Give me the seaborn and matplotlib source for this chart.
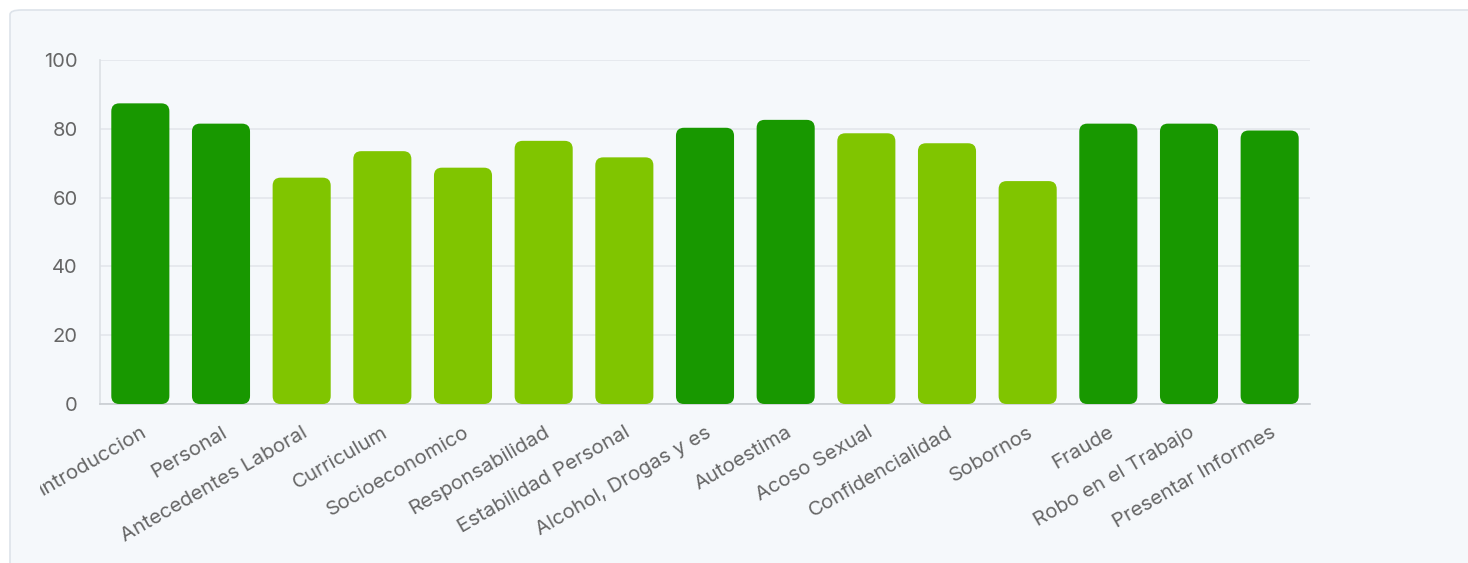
import matplotlib
matplotlib.use("Agg")
import matplotlib.pyplot as plt
import seaborn as sns
import pandas as pd
from matplotlib.patches import FancyBboxPatch, Rectangle

# データ
categories = ["Introduccion", "Personal", "Antecedentes Laboral", "Curriculum",
              "Socioeconomico", "Responsabilidad", "Estabilidad Personal",
              "Alcohol, Drogas y es", "Autoestima", "Acoso Sexual",
              "Confidencialidad", "Sobornos", "Fraude", "Robo en el Trabajo",
              "Presentar Informes"]
scores = [87.4, 81.5, 65.8, 73.5, 68.7, 76.5, 71.7, 80.3, 82.6, 78.7, 75.8,
          64.8, 81.5, 81.5, 79.5]
y_ticks = [0, 20, 40, 60, 80, 100]

DARK = "#189800"
LIGHT = "#80C500"
BG = "#F5F8FB"

df = pd.DataFrame({"cat": categories, "score": scores})
df["level"] = ["alto" if s >= 79 else "medio" for s in scores]

sns.set_theme(style="white")
plt.rcParams['font.family'] = ['Inter', 'DejaVu Sans']

W, H, DPI = 1468, 563, 100
fig = plt.figure(figsize=(W / DPI, H / DPI), dpi=DPI)
fig.patch.set_facecolor("white")

# カード背景
card = FancyBboxPatch((10 / W, -20 / H), (W + 20) / W, (H + 10) / H,
                      boxstyle="round,pad=0,rounding_size=0.008",
                      transform=fig.transFigure, facecolor=BG,
                      edgecolor="#DDE3EA", linewidth=1.2, zorder=-10)
fig.patches.append(card)

ax = fig.add_axes([100 / W, 159 / H, 1210 / W, 344 / H])
ax.set_facecolor("none")
ax.set_zorder(1)

sns.barplot(data=df, x="cat", y="score", hue="level",
            palette={"alto": DARK, "medio": LIGHT}, dodge=False,
            width=0.72, saturation=1, legend=False, ax=ax)

# 角丸バーに置き換え
px_x = 1210 / 15
px_y = 344 / 100
r = 8 / px_x
for p in list(ax.patches):
    if p.get_height() <= 0:
        p.remove()
        continue
    x, y = p.get_x(), p.get_y()
    w, h = p.get_width(), p.get_height()
    fb = FancyBboxPatch((x, y), w, h,
                        boxstyle=f"round,pad=0,rounding_size={r}",
                        mutation_aspect=px_x / px_y,
                        facecolor=p.get_facecolor(), edgecolor="none",
                        zorder=3)
    p.remove()
    ax.add_patch(fb)

ax.set_xlim(-0.5, len(categories) - 0.5)
ax.set_ylim(0, 100)
ax.set_yticks(y_ticks)
ax.yaxis.grid(True, color="#E3E7EC", linewidth=1.2)
ax.set_axisbelow(True)
ax.set_xlabel("")
ax.set_ylabel("")

for side in ["top", "right"]:
    ax.spines[side].set_visible(False)
ax.spines["left"].set_color("#DCE0E5")
ax.spines["bottom"].set_color("#C9CDD2")
ax.spines["left"].set_linewidth(1.2)
ax.spines["bottom"].set_linewidth(1.2)

ax.tick_params(axis="y", length=12, width=1.2, color="#E3E7EC", pad=4,
               labelsize=14.5, labelcolor="#666666")
ax.tick_params(axis="x", length=0, pad=14, labelsize=14.7,
               labelcolor="#666666")
ax.set_xticks(range(len(categories)))
ax.set_xticklabels(categories, rotation=30, ha="right",
                   rotation_mode="anchor")

# 左端のラベルを切り取る
clip = Rectangle((40 / W, 0), 1, 1, transform=fig.transFigure)
for lab in ax.get_xticklabels():
    lab.set_clip_path(clip)

fig.savefig("out.png", dpi=DPI, facecolor=fig.get_facecolor())
